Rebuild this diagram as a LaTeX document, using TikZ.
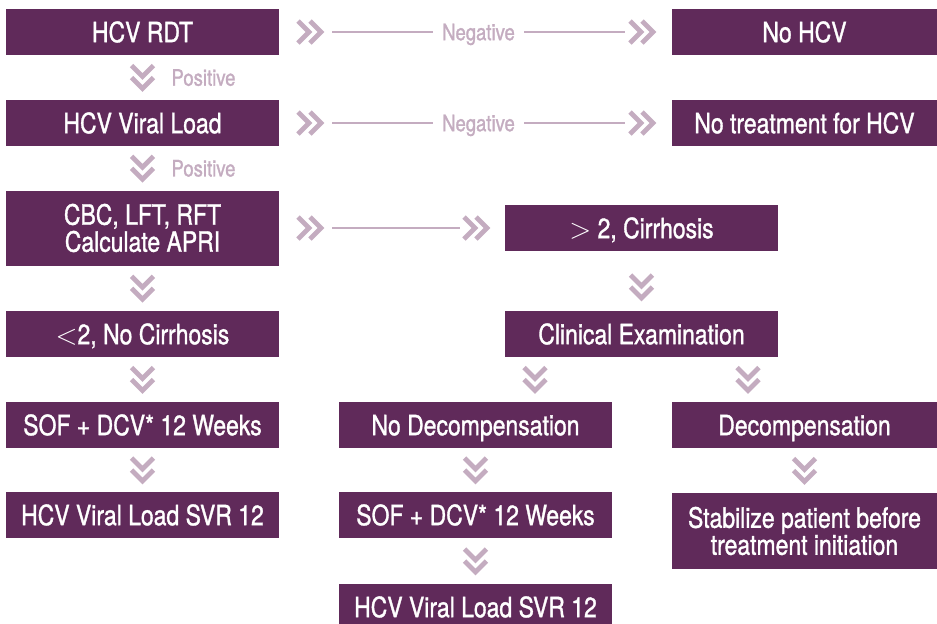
\documentclass[tikz,border=0pt]{standalone}
\usepackage{fontspec}
\setmainfont{TeX Gyre Heros}[FakeStretch=0.82, FakeBold=1.2]
\usetikzlibrary{calc}
\definecolor{boxpurple}{RGB}{96,42,90}
\definecolor{chevmauve}{RGB}{196,172,192}
\begin{document}
\begin{tikzpicture}[x=0.5pt,y=-0.5pt,
  box/.style={fill=boxpurple, text=white, minimum width=136.5pt, minimum height=23pt, inner sep=0pt, outer sep=0pt, align=center, text height=10.2pt, text depth=0pt, font=\fontsize{14}{13.5}\selectfont},
  rbox/.style={box, minimum width=132.5pt},
  twoline/.style={text height=, text depth=},
  lbl/.style={text=chevmauve, text height=8.2pt, text depth=0pt, font=\fontsize{11.3}{12}\selectfont},
  conn/.style={draw=chevmauve, line width=1pt},
  chevd/.pic={\draw[chevmauve, line width=2.4pt] (-11,-12)--(0,-1)--(11,-12) (-11,0)--(0,11)--(11,0);},
  chevr/.pic={\draw[chevmauve, line width=2.4pt] (-12,-11)--(-1,0)--(-12,11) (0,-11)--(11,0)--(0,11);}]
\useasboundingbox (0,0) rectangle (937,623);
\node[box] (rdt) at (142.5,32) {HCV RDT};
\node[rbox] (nohcv) at (804.5,32) {No HCV};
\node[box] (vl) at (142.5,123) {HCV Viral Load};
\node[rbox] (notreat) at (804.5,123) {No treatment for HCV};
\node[box, twoline, minimum height=37.5pt] (cbc) at (142.5,228) {CBC, LFT, RFT\\Calculate APRI};
\node[box] (cirr) at (641.5,228) {$>$ 2, Cirrhosis};
\node[box] (nocirr) at (142.5,334) {$<$2, No Cirrhosis};
\node[box] (clin) at (641.5,334) {Clinical Examination};
\node[box] (sofl) at (142.5,425) {SOF + DCV* 12 Weeks};
\node[box] (nodec) at (475.5,425) {No Decompensation};
\node[rbox] (dec) at (804.5,425) {Decompensation};
\node[box] (svrl) at (142.5,515) {HCV Viral Load SVR 12};
\node[box] (sofm) at (475.5,515) {SOF + DCV* 12 Weeks};
\node[rbox, twoline, minimum height=38pt] (stab) at (804.5,531) {Stabilize patient before\\treatment initiation};
\node[box] (svrm) at (475.5,607) {HCV Viral Load SVR 12};
\pic at ([xshift=15.5pt]rdt.east) {chevr};
\draw[conn] ([xshift=26.5pt]rdt.east) -- node[lbl, fill=white, inner xsep=4.5pt] (neg1) {Negative} ([xshift=-23.5pt]nohcv.west);
\pic at ([xshift=-15pt]nohcv.west) {chevr};
\pic at ([xshift=15.5pt]vl.east) {chevr};
\draw[conn] ([xshift=26.5pt]vl.east) -- node[lbl, fill=white, inner xsep=4.5pt] (neg2) {Negative} ([xshift=-23.5pt]notreat.west);
\pic at ([xshift=-15pt]notreat.west) {chevr};
\pic at ([xshift=15.5pt]cbc.east) {chevr};
\draw[conn] ([xshift=26.5pt]cbc.east) -- ([xshift=-22.5pt]cirr.west);
\pic at ([xshift=-14.5pt]cirr.west) {chevr};
\pic at ($(rdt.south)!0.5!(vl.north)$) {chevd};
\node[lbl] (pos1) at ($(rdt.south)!0.5!(vl.north)+(61,0)$) {Positive};
\pic at ($(vl.south)!0.5!(cbc.north)$) {chevd};
\node[lbl] (pos2) at ($(vl.south)!0.5!(cbc.north)+(61,0)$) {Positive};
\pic at ($(cbc.south)!0.5!(nocirr.north)$) {chevd};
\pic at ($(nocirr.south)!0.5!(sofl.north)$) {chevd};
\pic at ($(sofl.south)!0.5!(svrl.north)$) {chevd};
\pic at ($(cirr.south)!0.6!(clin.north)$) {chevd};
\pic at ($(clin.south)+(-106.5,22.5)$) {chevd};
\pic at ($(clin.south)+(106.5,22.5)$) {chevd};
\pic at ($(nodec.south)!0.5!(sofm.north)$) {chevd};
\pic at ($(dec.south)!0.5!(stab.north)$) {chevd};
\pic at ($(sofm.south)!0.5!(svrm.north)$) {chevd};
\end{tikzpicture}
\end{document}
